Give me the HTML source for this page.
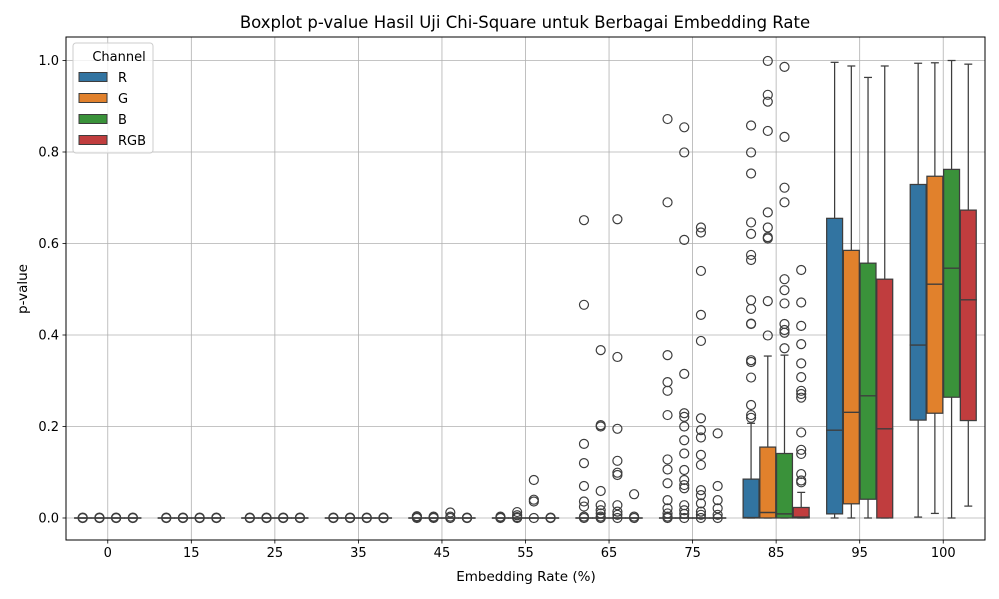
<!DOCTYPE html>
<html><head><meta charset="utf-8"><style>
body{margin:0;background:#fff}
svg{display:block;font-family:"DejaVu Sans","Liberation Sans",sans-serif}
</style></head><body>
<svg id="chart" width="999" height="599" viewBox="0 0 999 599">
<rect width="999" height="599" fill="#fff"/>
<text x="525" y="28" font-size="16.5" text-anchor="middle" fill="#000">Boxplot p-value Hasil Uji Chi-Square untuk Berbagai Embedding Rate</text>
<g id="grid"></g><g id="boxes"></g><g id="axes"></g>
<text x="526" y="581" font-size="13.5" text-anchor="middle">Embedding Rate (%)</text>
<text transform="translate(27,289) rotate(-90)" font-size="13.5" text-anchor="middle">p-value</text>
<g id="legend"></g>
</svg>
<script>
const categories=["0","15","25","35","45","55","65","75","85","95","100"];
const channels=["R","G","B","RGB"];
const colors=["#3274a1","#e1812c","#3a923a","#c03d3e"];
const yTicks=[0,0.2,0.4,0.6,0.8,1.0];
// stats per channel: [q1,median,q3,whiskerLo,whiskerHi] per category
const statsR=[[0,0,0,0,0],[0,0,0,0,0],[0,0,0,0,0],[0,0,0,0,0],[0,0,0,0,0],[0,0,0,0,0],[0,0,0,0,0],[0,0,0,0,0],[0,0.001,0.085,0,0.207],[0.009,0.192,0.655,0,0.996],[0.214,0.378,0.729,0.002,0.994]];
const statsG=[[0,0,0,0,0],[0,0,0,0,0],[0,0,0,0,0],[0,0,0,0,0],[0,0,0,0,0],[0,0,0,0,0],[0,0,0,0,0],[0,0,0,0,0],[0,0.012,0.155,0,0.354],[0.031,0.231,0.585,0,0.988],[0.229,0.511,0.747,0.01,0.995]];
const statsB=[[0,0,0,0,0],[0,0,0,0,0],[0,0,0,0,0],[0,0,0,0,0],[0,0,0,0,0],[0,0,0,0,0],[0,0,0,0,0],[0,0,0,0,0],[0,0.009,0.141,0,0.356],[0.041,0.267,0.557,0,0.963],[0.264,0.546,0.762,0,1.0]];
const statsRGB=[[0,0,0,0,0],[0,0,0,0,0],[0,0,0,0,0],[0,0,0,0,0],[0,0,0,0,0],[0,0,0,0,0],[0,0,0,0,0],[0,0,0,0,0],[0,0.002,0.023,0,0.056],[0,0.195,0.522,0,0.988],[0.213,0.477,0.673,0.026,0.992]];
const outR=[[0,0,0.001],[0,0,0.001],[0,0,0.001],[0,0,0.001],[0,0.002,0.004],[0,0.003,0.001],[0.651,0.466,0.162,0.12,0.07,0.036,0.025,0.003,0],[0.872,0.69,0.356,0.297,0.278,0.225,0.128,0.106,0.076,0.039,0.021,0.01,0.003,0],[0.858,0.799,0.753,0.646,0.621,0.575,0.564,0.476,0.457,0.425,0.424,0.345,0.341,0.307,0.247,0.225,0.219],[],[]];
const outG=[[0,0,0.001],[0,0,0.001],[0,0,0.001],[0,0,0.001],[0,0.003,0.001],[0,0.006,0.013,0.002],[0.367,0.203,0.2,0.059,0.028,0.017,0.01,0.003,0],[0.854,0.799,0.608,0.315,0.229,0.221,0.2,0.17,0.141,0.105,0.083,0.072,0.065,0.028,0.017,0.009,0],[0.999,0.925,0.91,0.846,0.668,0.635,0.614,0.611,0.474,0.399],[],[]];
const outB=[[0,0,0.001],[0,0,0.001],[0,0,0.001],[0,0,0.001],[0,0.003,0.012],[0,0.036,0.04,0.083],[0.653,0.352,0.195,0.125,0.099,0.094,0.028,0.014,0.007,0],[0.635,0.624,0.54,0.444,0.387,0.218,0.192,0.176,0.138,0.116,0.061,0.05,0.032,0.014,0.007,0],[0.986,0.833,0.722,0.69,0.522,0.498,0.469,0.424,0.411,0.405,0.371],[],[]];
const outRGB=[[0,0,0.001],[0,0,0.001],[0,0,0.001],[0,0,0.001],[0,0,0.001],[0,0,0.001],[0.052,0.003,0],[0.185,0.07,0.039,0.021,0.007,0],[0.542,0.471,0.42,0.38,0.338,0.308,0.278,0.271,0.263,0.187,0.149,0.14,0.096,0.082,0.078],[],[]];
const allStats=[statsR,statsG,statsB,statsRGB];
const allOut=[outR,outG,outB,outRGB];

const NS="http://www.w3.org/2000/svg";
const L=66,R=985,T=37,B=540;
const step=(R-L)/categories.length;
function xScale(i){return L+step*(i+0.5);}
function yScale(v){return 518-v*457.5;}
function mk(tag,attrs,parent){const e=document.createElementNS(NS,tag);for(const k in attrs)e.setAttribute(k,attrs[k]);parent.appendChild(e);return e;}
const grid=document.getElementById('grid'),boxes=document.getElementById('boxes'),axes=document.getElementById('axes'),legend=document.getElementById('legend');
categories.forEach((c,i)=>{
  const gl=mk('line',{x1:xScale(i),x2:xScale(i),y1:T,y2:B,stroke:'#b0b0b0','stroke-width':0.8},grid);
  
  
  mk('line',{x1:xScale(i),x2:xScale(i),y1:B,y2:B+3.5,stroke:'#000','stroke-width':0.8},axes);
  const t=mk('text',{x:xScale(i),y:B+17,'font-size':13,'text-anchor':'middle'},axes);
  t.textContent=c;
  
  
});
yTicks.forEach(v=>{
  const gl=mk('line',{x1:L,x2:R,y1:yScale(v),y2:yScale(v),stroke:'#b0b0b0','stroke-width':0.8},grid);
  
  
  mk('line',{x1:L-3.5,x2:L,y1:yScale(v),y2:yScale(v),stroke:'#000','stroke-width':0.8},axes);
  const t=mk('text',{x:L-7,y:yScale(v)+4.5,'font-size':13,'text-anchor':'end'},axes);
  t.textContent=v.toFixed(1);
  
  
});
const frame=mk('rect',{x:L,y:T,width:R-L,height:B-T,fill:'none',stroke:'#000','stroke-width':1},axes);


const bw=step*0.8/4, boxW=bw-0.8, lc='#3d3d3d';
allStats.forEach((st,h)=>{
  st.forEach((s,i)=>{
    const cx=xScale(i)-step*0.4+bw*(h+0.5);
    const g=mk('g',{},boxes);
    
    
    const [q1,md,q3,lo,hi]=s;
    mk('line',{x1:cx,x2:cx,y1:yScale(q3),y2:yScale(hi),stroke:lc,'stroke-width':1.25},g);
    mk('line',{x1:cx,x2:cx,y1:yScale(q1),y2:yScale(lo),stroke:lc,'stroke-width':1.25},g);
    mk('line',{x1:cx-boxW/4,x2:cx+boxW/4,y1:yScale(hi),y2:yScale(hi),stroke:lc,'stroke-width':1.25},g);
    mk('line',{x1:cx-boxW/4,x2:cx+boxW/4,y1:yScale(lo),y2:yScale(lo),stroke:lc,'stroke-width':1.25},g);
    mk('rect',{x:cx-boxW/2,y:yScale(q3),width:boxW,height:Math.max(0.05,yScale(q1)-yScale(q3)),fill:colors[h],stroke:lc,'stroke-width':1.25},g);
    mk('line',{x1:cx-boxW/2-0.6,x2:cx+boxW/2+0.6,y1:yScale(md),y2:yScale(md),stroke:lc,'stroke-width':1.4},g);
    allOut[h][i].forEach(v=>{
      const c=mk('circle',{cx:cx,cy:yScale(v),r:4.5,fill:'none',stroke:lc,'stroke-width':1.2},g);
      
      
    });
  });
});
mk('rect',{x:73,y:43,width:80,height:110,rx:3,fill:'#fff','fill-opacity':0.8,stroke:'#ccc','stroke-width':1},legend);
const lt=mk('text',{x:119,y:61,'font-size':13,'text-anchor':'middle'},legend);
lt.textContent='Channel';


channels.forEach((c,h)=>{
  const y=77+h*21;
  const g=mk('g',{},legend);
  
  
  mk('rect',{x:79,y:y-4.5,width:28,height:9,fill:colors[h],stroke:lc,'stroke-width':1},g);
  const t=mk('text',{x:118,y:y+5,'font-size':13},g);
  t.textContent=c;
});
</script>
</body></html>
